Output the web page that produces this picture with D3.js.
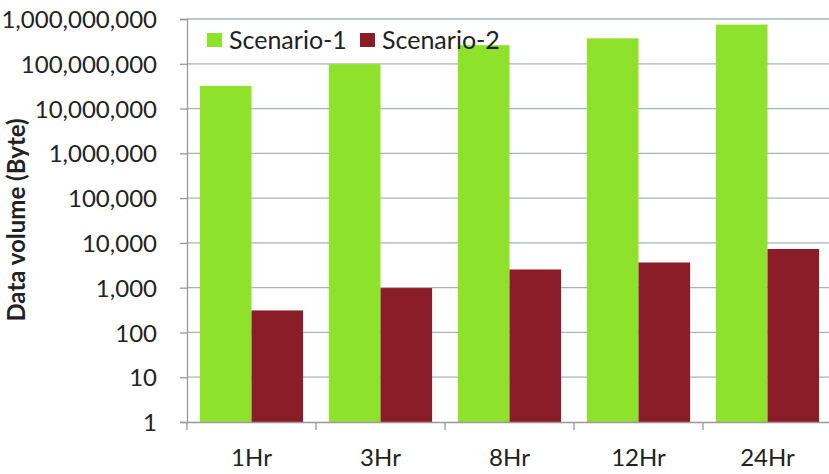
<!DOCTYPE html>
<html>
<head>
<meta charset="utf-8">
<script src="https://cdn.jsdelivr.net/npm/d3@7"></script>
<style>
  body { margin: 0; background: #fff; }
  svg { display: block; }
  text { font-family: Lato, "Open Sans", sans-serif; fill: #222; }
</style>
</head>
<body>
<svg id="chart" width="829" height="474"></svg>
<script>
const categories = ['1Hr', '3Hr', '8Hr', '12Hr', '24Hr'];
const seriesNames = ['Scenario-1', 'Scenario-2'];
const scenario1 = [32000000, 98000000, 260000000, 370000000, 750000000];
const scenario2 = [310, 980, 2550, 3650, 7300];
const yTicks = [1, 10, 100, 1000, 10000, 100000, 1000000, 10000000, 100000000, 1000000000];

const colors = ['#8fe22b', '#8b1d28'];
const svg = d3.select('#chart');
const margin = { left: 187, right: -3, top: 19, bottom: 52 };
const width = 829 - margin.left - margin.right;
const height = 474 - margin.top - margin.bottom;

const g = svg.append('g').attr('transform', `translate(${margin.left},${margin.top})`);

const x0 = d3.scaleBand().domain(categories).range([0, width]).paddingInner(0.2).paddingOuter(0.1);
const x1 = d3.scaleBand().domain(seriesNames).range([0, x0.bandwidth()]);
const y = d3.scaleLog().domain([1, 1e9]).range([height, 0]);

// gridlines
g.append('g')
  .selectAll('line')
  .data(yTicks.slice(1))
  .join('line')
  .attr('x1', 0)
  .attr('x2', width)
  .attr('y1', d => y(d))
  .attr('y2', d => y(d))
  .attr('stroke', '#a8b4b8')
  .attr('stroke-width', 1.3);

// bars
const rows = categories.map((c, i) => ({ cat: c, values: [scenario1[i], scenario2[i]] }));
g.append('g')
  .selectAll('g')
  .data(rows)
  .join('g')
  .attr('transform', d => `translate(${x0(d.cat)},0)`)
  .selectAll('rect')
  .data(d => d.values.map((v, k) => ({ name: seriesNames[k], v, k })))
  .join('rect')
  .attr('x', d => x1(d.name))
  .attr('width', x1.bandwidth())
  .attr('y', d => y(d.v))
  .attr('height', d => height - y(d.v))
  .attr('fill', d => colors[d.k]);

// y axis
const yAxis = g.append('g')
  .call(d3.axisLeft(y).tickValues(yTicks).tickFormat(d3.format(',')).tickSize(7).tickPadding(23));
yAxis.select('.domain').attr('stroke', '#999').attr('stroke-width', 1.3);
yAxis.selectAll('.tick line').attr('stroke', '#999').attr('stroke-width', 1.3);
yAxis.selectAll('text').style('font-size', '24px').attr('fill', '#222').attr('dy', '0.36em');

// x axis
const xAxis = g.append('g')
  .attr('transform', `translate(0,${height})`)
  .call(d3.axisBottom(x0).tickSize(0).tickPadding(27));
xAxis.select('.domain').attr('stroke', '#999').attr('stroke-width', 1.3);
xAxis.selectAll('text').style('font-size', '24px').attr('fill', '#222');
const step = x0.step();
g.append('g')
  .selectAll('line')
  .data(d3.range(categories.length + 1))
  .join('line')
  .attr('x1', i => x0(categories[0]) - x0.paddingOuter() * step + i * step)
  .attr('x2', i => x0(categories[0]) - x0.paddingOuter() * step + i * step)
  .attr('y1', height)
  .attr('y2', height + 8)
  .attr('stroke', '#999')
  .attr('stroke-width', 1.3);

// y title
svg.append('text')
  .attr('transform', 'translate(25,220) rotate(-90)')
  .attr('text-anchor', 'middle')
  .style('font-size', '24px')
  .style('font-weight', 'bold')
  .text('Data volume (Byte)');

// legend
const legend = svg.append('g').attr('transform', 'translate(207,33)');
const items = legend.selectAll('g')
  .data(seriesNames)
  .join('g')
  .attr('transform', (d, i) => `translate(${i * 153},0)`);
items.append('rect').attr('width', 15).attr('height', 14).attr('fill', (d, i) => colors[i]);
items.append('text').attr('x', 22).attr('y', 16).style('font-size', '25px').text(d => d);
</script>
</body>
</html>
